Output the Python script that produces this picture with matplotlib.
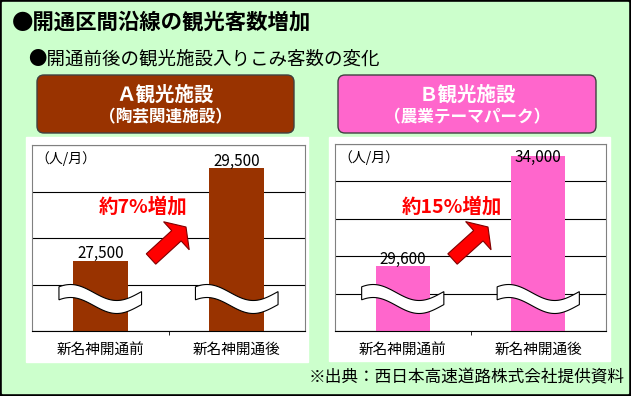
import matplotlib.pyplot as plt
import matplotlib.patches as mpatches
import numpy as np

plt.rcParams['font.family'] = ['Noto Sans CJK JP', 'DejaVu Sans']

# data
categories = ['新名神開通前', '新名神開通後']
visitors_a = [27500, 29500]
visitors_b = [29600, 34000]
value_labels_a = ['27,500', '29,500']
value_labels_b = ['29,600', '34,000']
increase_a = '約7%増加'
increase_b = '約15%増加'

W, H = 631, 396
GREEN = '#CCFFCC'
BROWN = '#993300'
PINK = '#FF66CC'

fig = plt.figure(figsize=(W / 100, H / 100), dpi=100)

# background layer in pixel coordinates (y down)
bg = fig.add_axes([0, 0, 1, 1], zorder=0)
bg.set_xlim(0, W)
bg.set_ylim(H, 0)
bg.axis('off')
bg.add_patch(mpatches.Rectangle((0, 0), W, H, color='black'))
bg.add_patch(mpatches.Rectangle((2, 2), W - 5, H - 5, color=GREEN))
bg.add_patch(mpatches.Rectangle((26, 137), 282, 225, color='white'))
bg.add_patch(mpatches.Rectangle((329, 137), 281, 224, color='white'))

bg.text(12, 22, '●開通区間沿線の観光客数増加', fontsize=15.4, weight='bold', va='center')
bg.text(28, 60, '●開通前後の観光施設入りこみ客数の変化', fontsize=13.3, va='center')
bg.text(625, 378, '※出典：西日本高速道路株式会社提供資料', fontsize=12, ha='right', va='center')

# header boxes
for x0, x1, color, line1, line2 in [(37, 294, BROWN, 'Ａ観光施設', '（陶芸関連施設）'),
                                    (338, 596, PINK, 'Ｂ観光施設', '（農業テーマパーク）')]:
    bg.add_patch(mpatches.FancyBboxPatch((x0, 75), x1 - x0, 58,
                                         boxstyle='round,pad=0,rounding_size=7',
                                         fc=color, ec='#404040', lw=1))
    cx = (x0 + x1) / 2
    bg.text(cx, 95, line1, color='white', fontsize=14, weight='bold', ha='center', va='center')
    bg.text(cx, 117, line2, color='white', fontsize=12, weight='bold', ha='center', va='center')


def draw_chart(rect, values, labels, color, ylim, step, label_offsets, increase, increase_pos):
    left, top, right, bottom = rect
    ax = fig.add_axes([left / W, 1 - bottom / H, (right - left) / W, (bottom - top) / H], zorder=2)
    ax.patch.set_alpha(0)
    x = np.arange(len(values))
    bars = ax.bar(x, values, width=0.4, color=color)
    ax.set_xlim(-0.5, 1.5)
    ax.set_ylim(*ylim)
    ax.set_yticks(np.arange(ylim[0], ylim[1] + 1, step))
    ax.yaxis.grid(True, color='black', lw=0.8)
    ax.set_axisbelow(True)
    ax.tick_params(axis='y', length=0, labelleft=False)
    ax.set_xticks(x, categories, fontsize=10.5)
    ax.tick_params(axis='x', which='major', length=0, pad=8.5)
    ax.set_xticks([0.5], minor=True)
    ax.tick_params(axis='x', which='minor', length=3, color='black')
    for side in ['left', 'top', 'right']:
        ax.spines[side].set_color('#808080')
    ax.spines['bottom'].set_color('black')
    for xi, v, lab, off in zip(x, values, labels, label_offsets):
        ax.annotate(lab, (xi, v), xytext=(0, off), textcoords='offset pixels',
                    ha='center', va='center', fontsize=11)
    ax.text(0.011, 0.925, '（人/月）', transform=ax.transAxes, fontsize=10, va='center')
    ax.text(increase_pos[0], increase_pos[1], increase, color='red', weight='bold', fontsize=14,
            ha='center', va='center', transform=ax.transAxes)
    return ax, bars


ax_a, bars_a = draw_chart((32, 145, 305, 331), visitors_a, value_labels_a, BROWN,
                          (26000, 30000), 1000, [8, 7], increase_a, (0.408, 0.667))
ax_b, bars_b = draw_chart((335, 144, 606, 331), visitors_b, value_labels_b, PINK,
                          (27000, 34500), 1500, [7, -1], increase_b, (0.432, 0.663))

# overlay: break marks and arrows, pixel coordinates
ov = fig.add_axes([0, 0, 1, 1], zorder=5)
ov.set_xlim(0, W)
ov.set_ylim(H, 0)
ov.axis('off')

t = np.linspace(0, 1, 60)
for ax, bars in [(ax_a, bars_a), (ax_b, bars_b)]:
    ax_bottom = H - ax.transAxes.transform((0, 0))[1]
    for bar in bars:
        px0 = ax.transData.transform((bar.get_x(), 0))[0] - 14
        px1 = ax.transData.transform((bar.get_x() + bar.get_width(), 0))[0] + 14
        xs = px0 + (px1 - px0) * t
        yc = ax_bottom - 32 - 8 * np.cos(2 * np.pi * (t - 0.14) / 1.12)
        top = yc - 6.5
        bot = yc + 6.5
        pts = np.column_stack([np.r_[xs, xs[::-1]], np.r_[top, bot[::-1]]])
        ov.add_patch(mpatches.Polygon(pts, closed=True, fc='white', ec='black', lw=0.8))

for x0, y0, x1, y1 in [(151, 259, 186, 227), (452.5, 259, 488, 227)]:
    ov.add_patch(mpatches.FancyArrow(x0, y0, x1 - x0, y1 - y0, width=14, head_width=38,
                                     head_length=13, length_includes_head=True,
                                     fc='red', ec='#800000', lw=0.8))

fig.savefig('out.png', dpi=100)
